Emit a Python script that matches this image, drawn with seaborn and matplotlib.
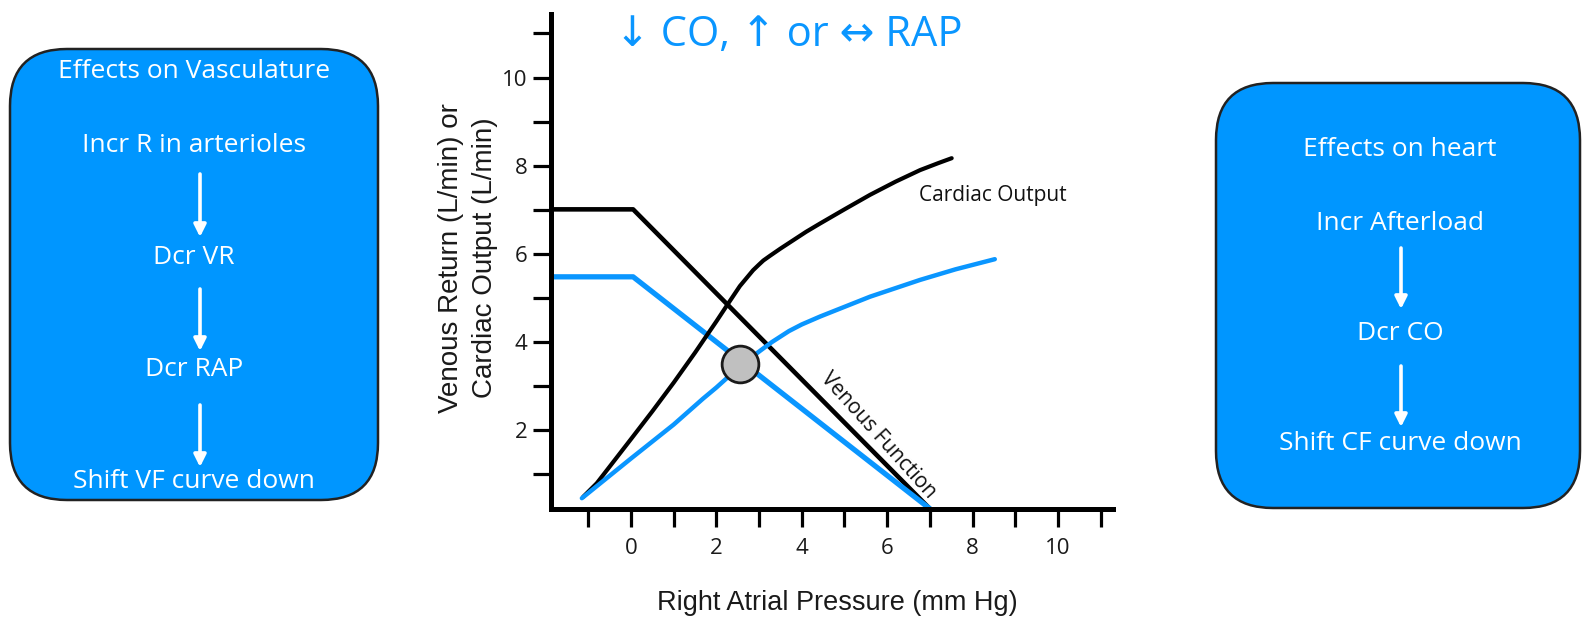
import matplotlib
matplotlib.use('Agg')
import matplotlib.pyplot as plt
import seaborn as sns
import pandas as pd
from matplotlib.patches import FancyBboxPatch

# venous function curves: normal (black) and shifted down (blue)
vf_black_rap = [-1.87, 0.05, 7.0]
vf_black_vr = [7.01, 7.01, 0.22]
vf_blue_rap = [-1.87, 0.05, 7.0]
vf_blue_vr = [5.48, 5.48, 0.22]

# cardiac function curves
co_black_rap = [-1.12, -0.8, 0.0, 0.5, 1.0, 1.5, 2.0, 2.28, 2.55, 2.86, 3.0, 3.1, 3.26, 3.5,
                3.8, 4.1, 4.43, 5.0, 5.6, 6.2, 6.77, 7.2, 7.51]
co_black_co = [0.49, 0.8, 1.8, 2.43, 3.08, 3.76, 4.47, 4.88, 5.27, 5.63, 5.76, 5.85, 5.96, 6.12,
               6.31, 6.5, 6.69, 7.01, 7.34, 7.64, 7.9, 8.06, 8.17]
co_blue_rap = [-1.15, 0.0, 1.0, 1.69, 2.0, 2.55, 3.02, 3.3, 3.7, 4.0, 4.43, 5.6, 6.77, 7.6, 8.52]
co_blue_co = [0.46, 1.36, 2.13, 2.72, 2.97, 3.45, 3.8, 4.0, 4.25, 4.4, 4.58, 5.03, 5.41, 5.65, 5.88]

# new equilibrium point
eq_rap = [2.55]
eq_co = [3.50]

x_major = [0, 2, 4, 6, 8, 10]
x_minor = [-1, 1, 3, 5, 7, 9, 11]
y_major = [2, 4, 6, 8, 10]
y_minor = [1, 3, 5, 7, 9, 11]

title = "\u2193 CO, \u2191 or \u2194 RAP"
xlabel = "Right Atrial Pressure (mm Hg)"
ylabel = "Venous Return (L/min) or\nCardiac Output (L/min)"
left_box = ["Effects on Vasculature", "Incr R in arterioles", "Dcr VR", "Dcr RAP", "Shift VF curve down"]
right_box = ["Effects on heart", "Incr Afterload", "Dcr CO", "Shift CF curve down"]

BLUE = '#0A96FF'
BOX = '#0096FF'

sns.set_theme(style='white')
plt.rcParams['font.family'] = ['Open Sans', 'DejaVu Sans']

fig = plt.figure(figsize=(15.87, 6.3), dpi=100)

# background axes in pixel units for boxes and free text
bg = fig.add_axes([0, 0, 1, 1])
bg.set_xlim(0, 1587); bg.set_ylim(630, 0); bg.axis('off')

ax = fig.add_axes([551/1587, 1 - 509/630, (1113-551)/1587, (509-14)/630])
ax.set_facecolor('none')

curves = [
    (vf_black_rap, vf_black_vr, 'black', 3.3),
    (vf_blue_rap, vf_blue_vr, BLUE, 3.8),
    (co_black_rap, co_black_co, 'black', 3.0),
    (co_blue_rap, co_blue_co, BLUE, 3.2),
]
for xs, ys, c, lw in curves:
    df = pd.DataFrame({'rap': xs, 'val': ys})
    sns.lineplot(data=df, x='rap', y='val', ax=ax, color=c, linewidth=lw,
                 sort=False, estimator=None, solid_capstyle='round', solid_joinstyle='round')

sns.scatterplot(x=eq_rap, y=eq_co, ax=ax, s=700, color='#c0c0c0',
                edgecolor='#1a1a1a', linewidth=2, zorder=5)

ax.text(8.48, 7.32, "Cardiac Output", fontsize=15, ha='center', va='center', color='#111111')
ax.text(5.78, 1.88, "Venous Function", fontsize=15, ha='center', va='center',
        rotation=-48, color='#111111')

ax.set_xlim(-1.873, 11.288)
ax.set_ylim(0.215, 11.44)
ax.set_xlabel(''); ax.set_ylabel('')
for s in ['top', 'right']:
    ax.spines[s].set_visible(False)
for s in ['left', 'bottom']:
    ax.spines[s].set_linewidth(3.6)
    ax.spines[s].set_color('black')
ax.set_xticks(x_major)
ax.set_xticks(x_minor, minor=True)
ax.set_yticks(y_major)
ax.set_yticks(y_minor, minor=True)
ax.tick_params(which='both', direction='out', length=13, width=2.3, color='black')
ax.tick_params(axis='x', which='major', pad=8, labelsize=16, labelcolor='#1a1a1a')
ax.tick_params(axis='y', which='major', pad=4, labelsize=16, labelcolor='#1a1a1a')
ax.tick_params(which='both', bottom=True, left=True)

bg.text(789, 35, title, color=BLUE, fontsize=30, ha='center', va='center')
bg.text(837, 603, xlabel, fontsize=19.5, ha='center', va='center',
        family='Liberation Sans', color='#1a1a1a')
bg.text(468, 258, ylabel, fontsize=20, ha='center', va='center', rotation=90,
        multialignment='center', linespacing=1.4, family='Liberation Sans', color='#1a1a1a')

# left box
bg.add_patch(FancyBboxPatch((10, 49), 368, 451, boxstyle="round,pad=0,rounding_size=57",
                            fc=BOX, ec='#222222', lw=1.8))
for txt, yy in zip(left_box, [71, 146, 258, 369, 481]):
    bg.text(194, yy, txt, color='white', fontsize=19, ha='center', va='center')
for y0, y1 in [(174, 237), (289, 351), (405, 467)]:
    bg.annotate('', xy=(200, y1), xytext=(200, y0),
                arrowprops=dict(arrowstyle='-|>', color='white', lw=2.6,
                                mutation_scale=18, shrinkA=0, shrinkB=0))

# right box
bg.add_patch(FancyBboxPatch((1216, 83), 364, 425, boxstyle="round,pad=0,rounding_size=57",
                            fc=BOX, ec='#222222', lw=1.8))
for txt, yy in zip(right_box, [149, 223, 333, 444]):
    bg.text(1400, yy, txt, color='white', fontsize=19, ha='center', va='center')
for y0, y1 in [(248, 309), (366, 427)]:
    bg.annotate('', xy=(1401, y1), xytext=(1401, y0),
                arrowprops=dict(arrowstyle='-|>', color='white', lw=2.6,
                                mutation_scale=18, shrinkA=0, shrinkB=0))

plt.savefig('out.png', dpi=100)
